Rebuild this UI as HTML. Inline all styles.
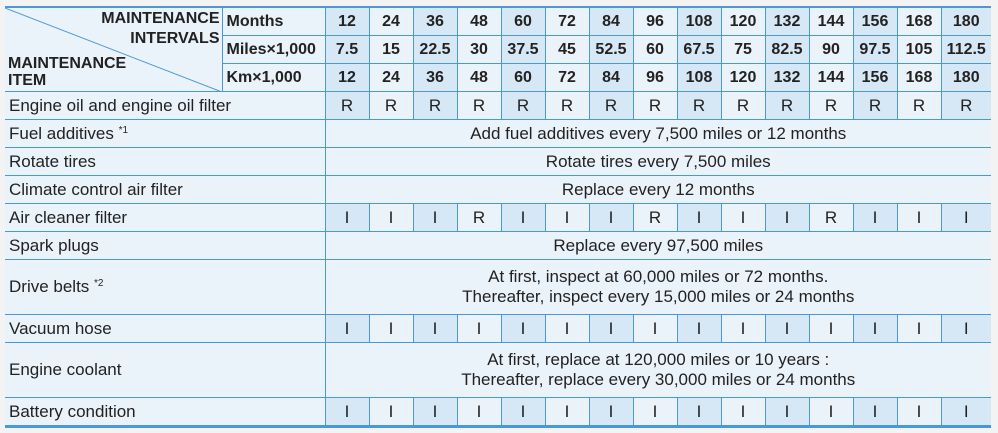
<!DOCTYPE html>
<html><head><meta charset="utf-8"><style>
html,body{margin:0;padding:0;background:#f3f3f3;width:998px;height:433px;overflow:hidden}
table{position:absolute;left:5px;top:6px;border-collapse:collapse;table-layout:fixed;width:986px;font-family:"Liberation Sans",Arial,sans-serif;font-size:17px;color:#222;border-top:2px solid #4a98d6;border-bottom:3px solid #4a98d6}
td{border:1px solid #4a98d6;background:#eaf2fa;padding:0;text-align:center;height:27px;line-height:18px;overflow:hidden;white-space:nowrap}
td:first-child{border-left:none}
td:last-child{border-right:none}
td.s{background:#d6e7f6}
tr.h td{font-weight:bold;font-size:16px}
td.l{text-align:left;padding-left:4px}
td.t{height:54px}
td.hd{position:relative;font-weight:bold;text-align:left}
sup{font-size:10px;vertical-align:6px;line-height:0}
</style></head><body>
<table>
<colgroup><col style="width:217px"><col style="width:103px"><col span="14" style="width:44px"><col style="width:50px"></colgroup>
<tr class="h"><td class="hd" rowspan="3" style="height:83px">
<svg style="position:absolute;left:0;top:0" width="217" height="84"><line x1="0" y1="0" x2="217" y2="84" stroke="#4a98d6" stroke-width="1"/></svg>
<div style="position:absolute;right:2px;top:1px;text-align:right;line-height:20px">MAINTENANCE<br>INTERVALS</div>
<div style="position:absolute;left:3px;top:47px;line-height:17px">MAINTENANCE<br>ITEM</div>
</td><td class="l">Months</td><td class="s">12</td><td>24</td><td class="s">36</td><td>48</td><td class="s">60</td><td>72</td><td class="s">84</td><td>96</td><td class="s">108</td><td>120</td><td class="s">132</td><td>144</td><td class="s">156</td><td>168</td><td class="s">180</td></tr>
<tr class="h"><td class="l">Miles×1,000</td><td class="s">7.5</td><td>15</td><td class="s">22.5</td><td>30</td><td class="s">37.5</td><td>45</td><td class="s">52.5</td><td>60</td><td class="s">67.5</td><td>75</td><td class="s">82.5</td><td>90</td><td class="s">97.5</td><td>105</td><td class="s">112.5</td></tr>
<tr class="h"><td class="l">Km×1,000</td><td class="s">12</td><td>24</td><td class="s">36</td><td>48</td><td class="s">60</td><td>72</td><td class="s">84</td><td>96</td><td class="s">108</td><td>120</td><td class="s">132</td><td>144</td><td class="s">156</td><td>168</td><td class="s">180</td></tr>
<tr><td class="l" colspan="2">Engine oil and engine oil filter</td><td class="s">R</td><td>R</td><td class="s">R</td><td>R</td><td class="s">R</td><td>R</td><td class="s">R</td><td>R</td><td class="s">R</td><td>R</td><td class="s">R</td><td>R</td><td class="s">R</td><td>R</td><td class="s">R</td></tr>
<tr><td class="l" colspan="2">Fuel additives <sup>*1</sup></td><td colspan="15">Add fuel additives every 7,500 miles or 12 months</td></tr>
<tr><td class="l" colspan="2">Rotate tires</td><td colspan="15">Rotate tires every 7,500 miles</td></tr>
<tr><td class="l" colspan="2">Climate control air filter</td><td colspan="15">Replace every 12 months</td></tr>
<tr><td class="l" colspan="2">Air cleaner filter</td><td class="s">I</td><td>I</td><td class="s">I</td><td>R</td><td class="s">I</td><td>I</td><td class="s">I</td><td>R</td><td class="s">I</td><td>I</td><td class="s">I</td><td>R</td><td class="s">I</td><td>I</td><td class="s">I</td></tr>
<tr><td class="l" colspan="2">Spark plugs</td><td colspan="15">Replace every 97,500 miles</td></tr>
<tr><td class="l t" colspan="2">Drive belts <sup>*2</sup></td><td colspan="15" style="line-height:20px">At first, inspect at 60,000 miles or 72 months.<br>Thereafter, inspect every 15,000 miles or 24 months</td></tr>
<tr><td class="l" colspan="2">Vacuum hose</td><td class="s">I</td><td>I</td><td class="s">I</td><td>I</td><td class="s">I</td><td>I</td><td class="s">I</td><td>I</td><td class="s">I</td><td>I</td><td class="s">I</td><td>I</td><td class="s">I</td><td>I</td><td class="s">I</td></tr>
<tr><td class="l t" colspan="2">Engine coolant</td><td colspan="15" style="line-height:20px">At first, replace at 120,000 miles or 10 years :<br>Thereafter, replace every 30,000 miles or 24 months</td></tr>
<tr><td class="l" colspan="2">Battery condition</td><td class="s">I</td><td>I</td><td class="s">I</td><td>I</td><td class="s">I</td><td>I</td><td class="s">I</td><td>I</td><td class="s">I</td><td>I</td><td class="s">I</td><td>I</td><td class="s">I</td><td>I</td><td class="s">I</td></tr>
</table>
</body></html>
